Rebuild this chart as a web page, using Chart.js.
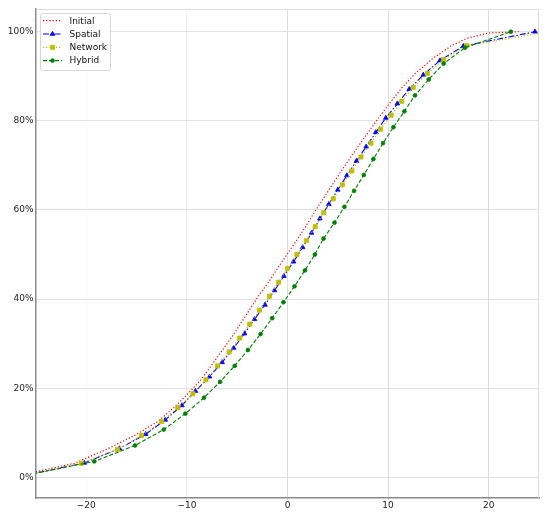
<!DOCTYPE html>
<html>
<head>
<meta charset="utf-8">
<script src="https://cdn.jsdelivr.net/npm/chart.js@4.4.1/dist/chart.umd.min.js"></script>
<style>
  html, body { margin: 0; padding: 0; background: #fff; }
  canvas { display: block; }
</style>
</head>
<body>
<canvas id="chartCanvas" width="550" height="518"></canvas>
<script>
// Axis ticks
const xTicks = [-20, -10, 0, 10, 20];
const yTicks = [0, 20, 40, 60, 80, 100];

// Initial (no markers) - cumulative %
const initialY = [0, 3.13, 6.25, 9.38, 12.5, 15.63, 18.75, 21.88, 25, 28.13, 31.25, 34.38, 37.5, 40.63, 43.75, 46.88,
  50, 53.13, 56.25, 59.38, 62.5, 65.63, 68.75, 71.88, 75, 78.13, 81.25, 84.38, 87.5, 90.63, 93.75, 96.88, 98.5, 99.7, 100];
const initialX = [-27.5, -21.2, -18.0, -15.2, -12.9, -11.3, -9.9, -8.6, -7.6, -6.6, -5.6, -4.7, -3.8, -2.9, -1.9, -1.0,
  -0.05, 0.9, 1.8, 2.65, 3.55, 4.45, 5.35, 6.3, 7.25, 8.25, 9.25, 10.3, 11.4, 12.7, 14.3, 16.3, 17.8, 19.9, 23];

// Spatial (triangles)
const spatialY = [0, 3.23, 6.45, 9.68, 12.9, 16.13, 19.35, 22.58, 25.81, 29.03, 32.26, 35.48, 38.71, 41.94, 45.16, 48.39,
  51.61, 54.84, 58.06, 61.29, 64.52, 67.74, 70.97, 74.19, 77.42, 80.65, 83.87, 87.1, 90.32, 93.55, 96.77, 100];
const spatialX = [-27, -20.2, -16.7, -14.1, -12.15, -10.5, -9.15, -7.75, -6.5, -5.35, -4.27, -3.28, -2.24, -1.29, -0.36, 0.6,
  1.51, 2.39, 3.22, 4.11, 5.0, 5.9, 6.85, 7.82, 8.78, 9.77, 10.92, 12.1, 13.5, 15.16, 17.48, 24.6];

// Network (squares)
const networkY = [0, 3.13, 6.25, 9.38, 12.5, 15.63, 18.75, 21.88, 25, 28.13, 31.25, 34.38, 37.5, 40.63, 43.75, 46.88,
  50, 53.13, 56.25, 59.38, 62.5, 65.63, 68.75, 71.88, 75, 78.13, 81.25, 84.38, 87.5, 90.63, 93.75, 96.88, 100];
const networkX = [-27, -20.5, -16.9, -14.5, -12.5, -10.9, -9.4, -8.1, -6.95, -5.8, -4.75, -3.75, -2.8, -1.8, -0.9, 0.0,
  0.93, 1.88, 2.75, 3.6, 4.55, 5.45, 6.4, 7.3, 8.3, 9.25, 10.3, 11.35, 12.5, 13.9, 15.5, 17.8, 26];

// Hybrid (circles)
const hybridY = [0, 3.57, 7.14, 10.71, 14.29, 17.86, 21.43, 25, 28.57, 32.14, 35.71, 39.29, 42.86, 46.43, 50,
  53.57, 57.14, 60.71, 64.29, 67.86, 71.43, 75, 78.57, 82.14, 85.71, 89.29, 92.86, 96.43, 100];
const hybridX = [-27, -19.2, -15.15, -12.3, -10.15, -8.3, -6.7, -5.25, -3.93, -2.68, -1.52, -0.4, 0.7, 1.73, 2.72,
  3.58, 4.67, 5.66, 6.62, 7.59, 8.54, 9.5, 10.53, 11.62, 12.67, 14.04, 15.53, 17.65, 22.2];

function pts(xs, ys) {
  return xs.map((x, i) => ({ x, y: ys[i] }));
}

Chart.defaults.font.family = "'DejaVu Sans', sans-serif";
Chart.defaults.color = '#222';

// legend box + top/right frame, drawn like the matplotlib one
const legendBox = {
  id: 'legendBox',
  afterDraw(chart) {
    const ctx = chart.ctx;
    const a = chart.chartArea;
    ctx.save();
    ctx.strokeStyle = '#dcdcdc';
    ctx.lineWidth = 1;
    ctx.beginPath();
    ctx.moveTo(a.left, a.top + 0.5);
    ctx.lineTo(a.right - 0.5, a.top + 0.5);
    ctx.lineTo(a.right - 0.5, a.bottom);
    ctx.stroke();

    ctx.fillStyle = 'rgba(255,255,255,0.85)';
    ctx.strokeStyle = '#d6d6d6';
    ctx.beginPath();
    ctx.roundRect(40.5, 13.5, 70, 57, 2);
    ctx.fill();
    ctx.stroke();

    ctx.font = "9px 'DejaVu Sans'";
    ctx.textBaseline = 'middle';
    chart.data.datasets.forEach((ds, i) => {
      const y = 20.7 + i * 13.3;
      ctx.strokeStyle = ds.borderColor;
      ctx.lineWidth = ds.borderWidth;
      ctx.setLineDash(ds.borderDash || []);
      ctx.beginPath();
      ctx.moveTo(43, y);
      ctx.lineTo(62, y);
      ctx.stroke();
      ctx.setLineDash([]);
      if (ds.pointRadius > 0) {
        ctx.fillStyle = ds.backgroundColor;
        ctx.strokeStyle = ds.borderColor;
        ctx.lineWidth = ds.pointBorderWidth;
        Chart.helpers.drawPoint(ctx, {
          pointStyle: ds.pointStyle, radius: ds.pointRadius, rotation: 0, borderWidth: ds.pointBorderWidth
        }, 52.5, y);
      }
      ctx.fillStyle = '#111';
      ctx.fillText(ds.label, 69.5, y + 0.5);
    });
    ctx.restore();
  }
};

const ctx = document.getElementById('chartCanvas').getContext('2d');
new Chart(ctx, {
  type: 'scatter',
  data: {
    datasets: [
      {
        label: 'Initial',
        data: pts(initialX, initialY),
        showLine: true,
        borderColor: '#ff0000',
        backgroundColor: '#ff0000',
        borderWidth: 1.2,
        borderDash: [1.2, 2],
        pointRadius: 0,
        pointBorderWidth: 0,
        order: 3,
      },
      {
        label: 'Spatial',
        data: pts(spatialX, spatialY),
        showLine: true,
        borderColor: '#0000ff',
        backgroundColor: '#0000ff',
        borderWidth: 1.1,
        borderDash: [6, 2, 1.5, 2],
        pointStyle: 'triangle',
        pointRadius: 2.7,
        pointBorderWidth: 0.8,
        order: 2,
      },
      {
        label: 'Network',
        data: pts(networkX, networkY),
        showLine: true,
        borderColor: '#bfbf00',
        backgroundColor: '#bfbf00',
        borderWidth: 1.2,
        borderDash: [1.2, 2],
        pointStyle: 'rect',
        pointRadius: 2.9,
        pointBorderWidth: 0.8,
        order: 1,
      },
      {
        label: 'Hybrid',
        data: pts(hybridX, hybridY),
        showLine: true,
        borderColor: '#008000',
        backgroundColor: '#008000',
        borderWidth: 1.1,
        borderDash: [4, 2],
        pointStyle: 'circle',
        pointRadius: 1.9,
        pointBorderWidth: 0.8,
        order: 0,
      },
    ],
  },
  options: {
    responsive: false,
    animation: false,
    events: [],
    layout: { padding: { left: 0, right: 11, top: 9, bottom: 0 } },
    plugins: {
      legend: { display: false },
      tooltip: { enabled: false },
    },
    scales: {
      x: {
        type: 'linear',
        min: -25,
        max: 25,
        afterBuildTicks: s => { s.ticks = xTicks.map(v => ({ value: v })); },
        afterFit: s => { s.height = 20; },
        ticks: {
          padding: 0,
          font: { size: 9 },
          color: '#222',
          callback: v => (v < 0 ? '\u2212' + Math.abs(v) : String(v)),
        },
        grid: {
          color: c => (c.tick && c.tick.value === -20 ? 'rgba(0,0,0,0.02)'
            : c.tick && c.tick.value === -10 ? '#f0f0f0' : '#dedede'),
          tickLength: 2,
          tickColor: '#cfcfcf',
        },
        border: { color: '#8a8a8a', width: 1.5 },
      },
      y: {
        type: 'linear',
        min: -4.65,
        max: 105.1,
        afterBuildTicks: s => { s.ticks = yTicks.map(v => ({ value: v })); },
        afterFit: s => { s.width = 36; },
        ticks: {
          padding: 2.5,
          font: { size: 9 },
          color: '#222',
          callback: v => v + '%',
        },
        grid: {
          color: '#e2e2e2',
          tickLength: 0,
        },
        border: { color: '#8a8a8a', width: 1.5 },
      },
    },
  },
  plugins: [legendBox],
});
</script>
</body>
</html>
